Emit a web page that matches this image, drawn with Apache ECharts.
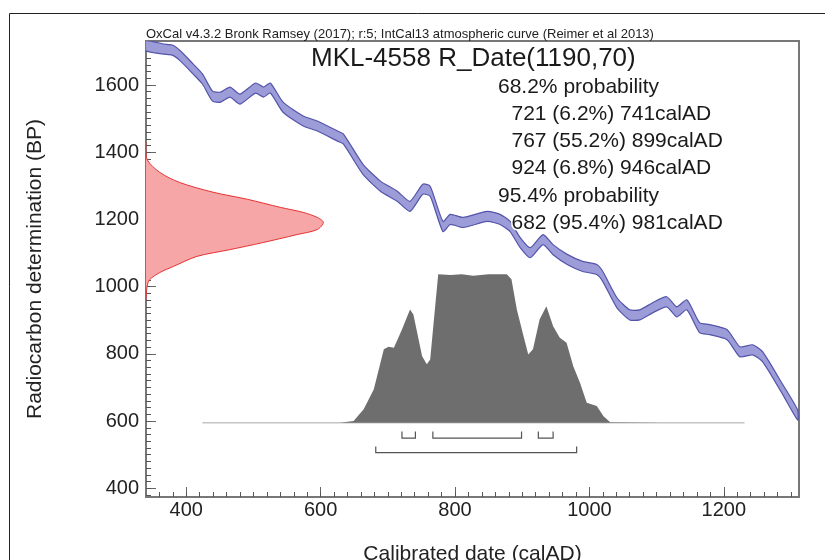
<!DOCTYPE html>
<html>
<head>
<meta charset="utf-8">
<script src="https://cdn.jsdelivr.net/npm/echarts@6/dist/echarts.min.js"></script>
<style>
    html, body { margin: 0; padding: 0; background: #fff; }
    #chart { width: 825px; height: 560px; }
</style>
</head>
<body>
<div id="chart"></div>
<script>
// calibration curve (IntCal13), calAD -> BP
const curveYears = [340, 366, 379, 391, 410, 424, 439, 451, 465, 480, 503, 515, 525, 544, 574, 595, 625, 634, 663, 689,
    714, 733, 752, 763, 782, 793, 812, 848, 867, 882, 897, 912, 931, 946, 967, 990, 1011, 1020, 1041, 1060,
    1075, 1094, 1115, 1130, 1145, 1164, 1179, 1205, 1224, 1243, 1258, 1288, 1310];
const curveBP = [1717, 1707, 1704, 1687, 1648, 1618, 1567, 1564, 1579, 1558, 1591, 1579, 1591, 1534, 1493, 1478, 1448, 1439, 1349, 1299,
    1269, 1239, 1290, 1284, 1179, 1200, 1191, 1209, 1200, 1179, 1131, 1101, 1140, 1110, 1081, 1060, 1051, 1030, 952, 916,
    916, 937, 955, 925, 946, 878, 872, 857, 806, 812, 791, 693, 618];
const curveSigma = 15;

// measured date R_Date(1190,70), relative probability by BP
const measuredBP = [1430, 1379, 1340, 1310, 1281, 1260, 1236, 1221, 1206, 1191, 1170, 1155, 1131, 1110, 1090, 1060, 1042, 1021, 1000, 961];
const measuredProb = [0, 0.006, 0.078, 0.19, 0.378, 0.571, 0.757, 0.886, 0.966, 1, 0.966, 0.852, 0.658, 0.472, 0.287, 0.154, 0.078, 0.021, 0.006, 0];

// calibrated distribution, relative probability by calAD
const calYears = [424, 629, 649, 664, 679, 694, 701, 709, 721, 733, 738, 751, 758, 763, 770, 775, 793, 810, 827, 850,
    877, 884, 892, 902, 909, 916, 926, 936, 946, 956, 966, 976, 986, 996, 1011, 1021, 1031, 1105, 1231];
const calProb = [0, 0, 0.011, 0.09, 0.224, 0.494, 0.512, 0.505, 0.628, 0.763, 0.729, 0.448, 0.393, 0.426, 0.763, 1.0, 0.995, 1.0, 0.99, 1.0,
    1.0, 0.966, 0.763, 0.583, 0.46, 0.494, 0.696, 0.785, 0.65, 0.572, 0.539, 0.381, 0.269, 0.135, 0.112, 0.044, 0.004, 0, 0];

// ranges: [from, to, percent]
const ranges68 = [[721, 741, 6.2], [767, 899, 55.2], [924, 946, 6.8]];
const ranges95 = [[682, 981, 95.4]];

const xMajor = [400, 600, 800, 1000, 1200];
const yMajor = [400, 600, 800, 1000, 1200, 1400, 1600];

const headerText = 'OxCal v4.3.2 Bronk Ramsey (2017); r:5; IntCal13 atmospheric curve (Reimer et al 2013)';
const titleText = 'MKL-4558 R_Date(1190,70)';

const xMin = 340, xMax = 1312;
const yMin = 374, yMax = 1731;
const FONT = "'Liberation Sans', Arial, sans-serif";

// where the two distributions sit on the axes
const measuredWidth = 264;   // calAD units at peak
const calBase = 595, calHeight = 442;  // BP units
const bracketLine = [549, 506], bracketTip = [569, 524];

const xMinor = [], yMinor = [];
for (let v = 360; v <= xMax; v += 20) xMinor.push(v);
for (let v = 380; v <= yMax; v += 20) yMinor.push(v);

function renderBand(params, api) {
    if (params.dataIndex !== 0) return null;
    const upper = curveYears.map((yr, i) => api.coord([yr, curveBP[i] + curveSigma]));
    const lower = curveYears.map((yr, i) => api.coord([yr, curveBP[i] - curveSigma])).reverse();
    return {
        type: 'polygon',
        shape: { points: upper.concat(lower), smooth: 0.2 },
        style: { fill: '#9c9cd9', stroke: '#5454aa', lineWidth: 1.2 }
    };
}

function renderMeasured(params, api) {
    if (params.dataIndex !== 0) return null;
    const pts = measuredBP.map((bp, i) => api.coord([xMin + measuredProb[i] * measuredWidth, bp]));
    return {
        type: 'group',
        children: [
            { type: 'polygon', shape: { points: pts, smooth: 0.3 }, style: { fill: '#f6a6a6' } },
            { type: 'polyline', shape: { points: pts, smooth: 0.3 }, style: { stroke: '#e63232', lineWidth: 1, fill: null } }
        ]
    };
}

function renderCalibrated(params, api) {
    if (params.dataIndex !== 0) return null;
    const pts = calYears.map((yr, i) => api.coord([yr, calBase + calProb[i] * calHeight]));
    const b0 = api.coord([calYears[0], calBase]);
    const b1 = api.coord([calYears[calYears.length - 1], calBase]);
    return {
        type: 'group',
        children: [
            { type: 'line', shape: { x1: b0[0], y1: b0[1], x2: b1[0], y2: b1[1] }, style: { stroke: '#c4c4c4', lineWidth: 1.5 } },
            { type: 'polygon', shape: { points: pts }, style: { fill: '#6e6e6e' } }
        ]
    };
}

function renderBracket(params, api) {
    const lvl = api.value(2);
    const a = api.coord([api.value(0), bracketLine[lvl]]);
    const b = api.coord([api.value(1), bracketLine[lvl]]);
    const tip = api.coord([api.value(0), bracketTip[lvl]])[1];
    return {
        type: 'polyline',
        shape: { points: [[a[0], tip], a, b, [b[0], tip]] },
        style: { stroke: '#555', lineWidth: 1.2, fill: null }
    };
}

const bracketData = ranges68.map(r => [r[0], r[1], 0]).concat(ranges95.map(r => [r[0], r[1], 1]));

// summary text block
const summaryLines = [];
summaryLines.push({ text: '68.2% probability', head: true });
ranges68.forEach(r => summaryLines.push({ text: `${r[0]} (${r[2]}%) ${r[1]}calAD`, head: false }));
summaryLines.push({ text: '95.4% probability', head: true });
ranges95.forEach(r => summaryLines.push({ text: `${r[0]} (${r[2]}%) ${r[1]}calAD`, head: false }));

const graphics = [
    { type: 'line', shape: { x1: 9.5, y1: 13.5, x2: 825, y2: 13.5 }, style: { stroke: '#222', lineWidth: 1 } },
    { type: 'line', shape: { x1: 9.5, y1: 13.5, x2: 9.5, y2: 560 }, style: { stroke: '#222', lineWidth: 1 } },
    { type: 'text', x: 146, y: 34, z: 10, style: { text: headerText, fontSize: 13, fontFamily: FONT, fill: '#222', verticalAlign: 'middle' } },
    { type: 'text', x: 311, y: 59, z: 10, style: { text: titleText, fontSize: 26, fontFamily: FONT, fill: '#1a1a1a', verticalAlign: 'middle', stroke: '#fff', lineWidth: 3 } }
];
summaryLines.forEach((line, i) => {
    graphics.push({
        type: 'text',
        x: line.head ? 498 : 511.5,
        y: 87 + i * 27.2,
        z: 10,
        style: { text: line.text, fontSize: 21, fontFamily: FONT, fill: '#1a1a1a', verticalAlign: 'middle', stroke: '#fff', lineWidth: 3 }
    });
});

const plainNum = v => String(v);

const chart = echarts.init(document.getElementById('chart'), null, { renderer: 'canvas' });

const option = {
    animation: false,
    backgroundColor: '#fff',
    grid: {
        left: 146, right: 26, top: 41, bottom: 63,
        show: true, borderColor: '#777', borderWidth: 2,
        containLabel: false, outerBoundsMode: 'none'
    },
    xAxis: [{
        type: 'value', min: xMin, max: xMax, position: 'bottom',
        axisLine: { lineStyle: { color: '#777', width: 2 } },
        axisTick: { inside: true, length: 10, customValues: xMajor, lineStyle: { color: '#666', width: 1 } },
        axisLabel: { customValues: xMajor, formatter: plainNum, fontSize: 20, fontFamily: FONT, color: '#222', margin: 3 },
        splitLine: { show: false },
        name: 'Calibrated date (calAD)', nameLocation: 'middle', nameGap: 47,
        nameTextStyle: { fontSize: 21, fontFamily: FONT, color: '#222' }
    }, {
        type: 'value', min: xMin, max: xMax, position: 'bottom', offset: 0,
        axisLine: { show: false },
        axisTick: { show: true, inside: true, length: 5, customValues: xMinor, lineStyle: { color: '#555', width: 1 } },
        axisLabel: { show: false, customValues: xMinor },
        splitLine: { show: false }
    }],
    yAxis: [{
        type: 'value', min: yMin, max: yMax, position: 'left',
        axisLine: { show: true, lineStyle: { color: '#777', width: 2 } },
        axisTick: { show: true, inside: true, length: 10, customValues: yMajor, lineStyle: { color: '#666', width: 1 } },
        axisLabel: { customValues: yMajor, formatter: plainNum, fontSize: 20, fontFamily: FONT, color: '#222', margin: 7 },
        splitLine: { show: false },
        name: 'Radiocarbon determination (BP)', nameLocation: 'middle', nameGap: 100, nameRotate: 90,
        nameTextStyle: { fontSize: 21, fontFamily: FONT, color: '#222' }
    }, {
        type: 'value', min: yMin, max: yMax, position: 'left', offset: 0,
        axisLine: { show: false },
        axisTick: { show: true, inside: true, length: 5, customValues: yMinor, lineStyle: { color: '#555', width: 1 } },
        axisLabel: { show: false, customValues: yMinor },
        splitLine: { show: false }
    }],
    series: [{
        name: 'IntCal13',
        type: 'custom',
        clip: true,
        renderItem: renderBand,
        data: curveYears.map((yr, i) => [yr, curveBP[i]]),
        z: 2
    }, {
        name: 'R_Date',
        type: 'custom',
        clip: true,
        renderItem: renderMeasured,
        data: measuredBP.map((bp, i) => [xMin + measuredProb[i] * measuredWidth, bp]),
        z: 3
    }, {
        name: 'Calibrated',
        type: 'custom',
        clip: true,
        renderItem: renderCalibrated,
        data: calYears.map((yr, i) => [yr, calBase + calProb[i] * calHeight]),
        z: 4
    }, {
        name: 'Ranges',
        type: 'custom',
        renderItem: renderBracket,
        encode: { x: [0, 1] },
        data: bracketData,
        z: 5
    }],
    graphic: graphics
};

chart.setOption(option);
</script>
</body>
</html>
